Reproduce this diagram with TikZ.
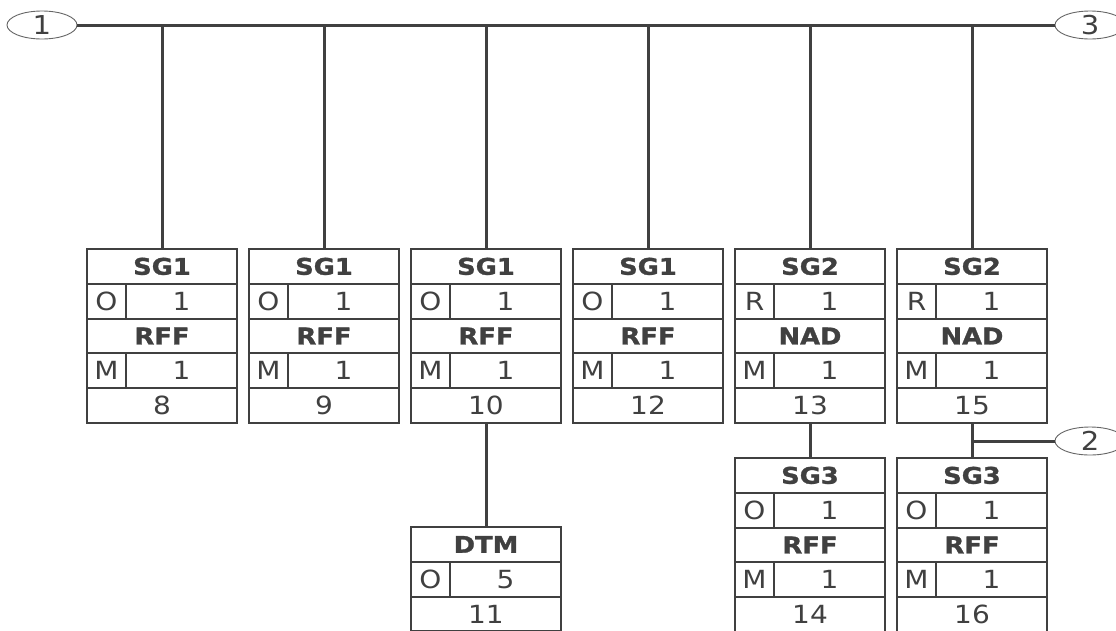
\documentclass[tikz,border=0pt]{standalone}
\usepackage{fontspec}
\setmainfont{DejaVu Sans}[FakeStretch=1.12, BoldFeatures={FakeBold=1.2}]
\usepackage{tikz}
\usetikzlibrary{positioning,shapes.geometric}
\definecolor{ink}{HTML}{404040}

\begin{document}
\begin{tikzpicture}[
  x=1pt, y=-1pt,
  cell/.style={draw=ink, line width=2pt, inner sep=0pt, outer sep=0pt, minimum height=34.8pt, text=ink, font=\fontsize{25}{26}\selectfont},
  head/.style={cell, minimum width=150pt, font=\fontsize{23}{24}\selectfont\bfseries},
  flag/.style={cell, minimum width=39pt},
  rep/.style={cell, minimum width=111pt},
  numrow/.style={cell, minimum width=150pt},
  bus/.style={draw=ink, line width=3pt},
  conn/.style={ellipse, draw=ink!80, line width=0.9pt, minimum width=70pt, minimum height=28pt, inner sep=0pt, text=ink, font=\fontsize{26}{26}\selectfont}
]
  \useasboundingbox[fill=white] (0,0) rectangle (1116,630);

  % Connectors at the ends
  \node[conn] (e1) at (42,25) {1};
  \node[conn] (e3) at (1090,25) {3};
  \node[conn] (e2) at (1090,441) {2};

  % Top level groups
  \foreach \id/\cx/\grp/\gst/\seg/\num in {a/162/SG1/O/RFF/8, b/324/SG1/O/RFF/9, c/486/SG1/O/RFF/10, d/648/SG1/O/RFF/12, e/810/SG2/R/NAD/13, f/972/SG2/R/NAD/15}{
    \node[head, anchor=north] (\id-grp) at (\cx,249) {\grp};
    \node[flag, below right=0pt and 0pt of \id-grp.south west] (\id-gst) {\gst};
    \node[rep, right=0pt of \id-gst] (\id-grep) {1};
    \node[head, below right=0pt and 0pt of \id-gst.south west] (\id-seg) {\seg};
    \node[flag, below right=0pt and 0pt of \id-seg.south west] (\id-sst) {M};
    \node[rep, right=0pt of \id-sst] (\id-srep) {1};
    \node[numrow, below right=0pt and 0pt of \id-sst.south west] (\id-num) {\num};
  }

  % SG3 groups
  \foreach \id/\cx/\num in {g/810/14, h/972/16}{
    \node[head, anchor=north] (\id-grp) at (\cx,458) {SG3};
    \node[flag, below right=0pt and 0pt of \id-grp.south west] (\id-gst) {O};
    \node[rep, right=0pt of \id-gst] (\id-grep) {1};
    \node[head, below right=0pt and 0pt of \id-gst.south west] (\id-seg) {RFF};
    \node[flag, below right=0pt and 0pt of \id-seg.south west] (\id-sst) {M};
    \node[rep, right=0pt of \id-sst] (\id-srep) {1};
    \node[numrow, below right=0pt and 0pt of \id-sst.south west] (\id-num) {\num};
  }

  % DTM segment
  \node[head, anchor=north] (dtm-seg) at (486,527) {DTM};
  \node[flag, below right=0pt and 0pt of dtm-seg.south west] (dtm-sst) {O};
  \node[rep, right=0pt of dtm-sst] (dtm-srep) {5};
  \node[numrow, below right=0pt and 0pt of dtm-sst.south west] (dtm-num) {11};

  % Lines
  \draw[bus] (e1) -- (e3);
  \foreach \id in {a,b,c,d,e,f}
    \draw[bus] (\id-grp.north |- e1) -- (\id-grp.north);
  \draw[bus] (c-num) -- (dtm-seg);
  \draw[bus] (e-num) -- (g-grp);
  \draw[bus] (f-num) -- (h-grp);
  \coordinate (h-branch) at (f-num.south |- e2);
  \draw[bus] (h-branch) -- (e2);
\end{tikzpicture}
\end{document}
